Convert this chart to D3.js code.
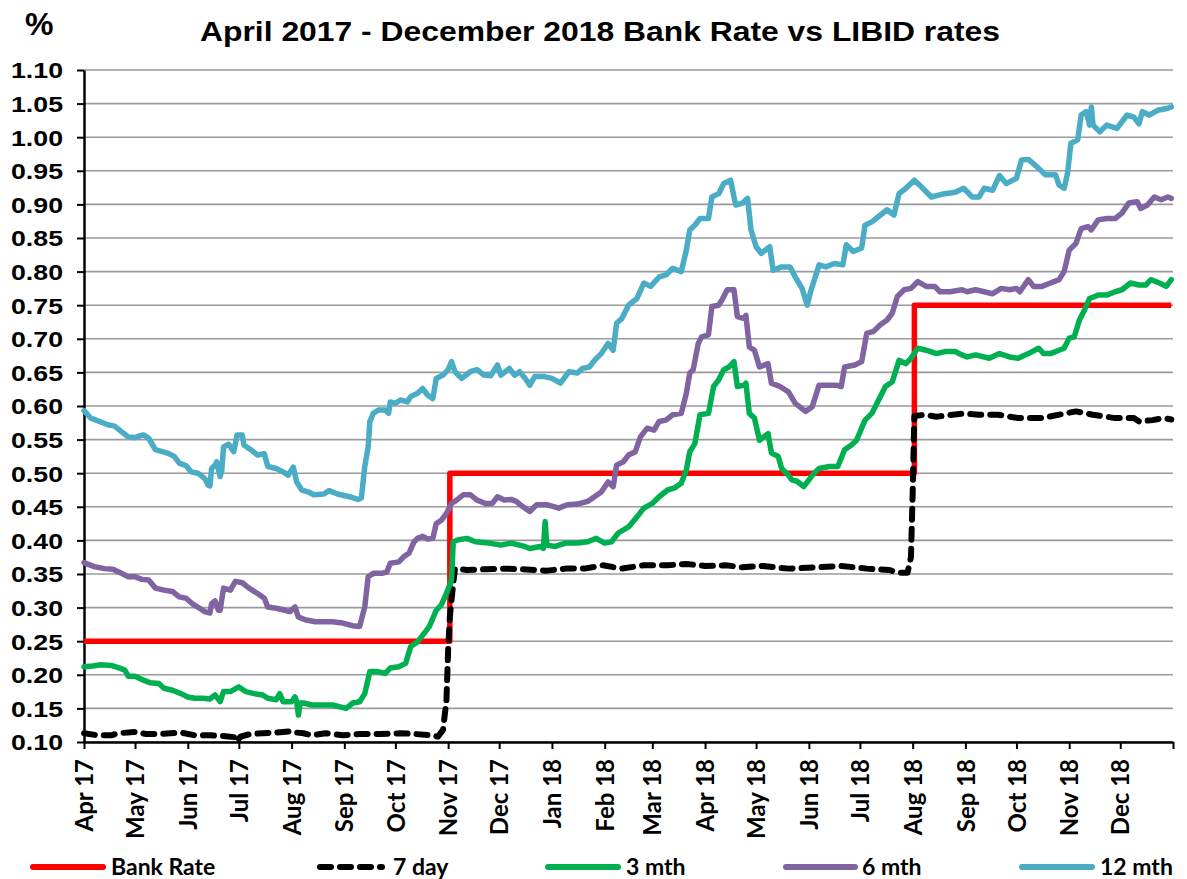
<!DOCTYPE html>
<html>
<head>
<meta charset="utf-8">
<script src="https://cdn.jsdelivr.net/npm/d3@7"></script>
<style>
  html, body { margin: 0; padding: 0; background: #fff; }
  svg { display: block; }
</style>
</head>
<body>
<svg id="chart" width="1187" height="879"></svg>
<script>
// ---------------- DATA ----------------
const chartTitle = "April 2017 - December 2018 Bank Rate vs LIBID rates";
const yUnit = "%";
const seriesNames = ["Bank Rate", "7 day", "3 mth", "6 mth", "12 mth"];
const yTicks = [0.10,0.15,0.20,0.25,0.30,0.35,0.40,0.45,0.50,0.55,0.60,0.65,0.70,0.75,0.80,0.85,0.90,0.95,1.00,1.05,1.10];
const xStart = "2017-04-01";
const xEnd = "2019-01-01";

const bankRate = [
  ["2017-04-01",0.25],["2017-11-02",0.50],["2018-08-02",0.75],["2018-12-31",0.75]
];

const day7 = [
  ["2017-04-01",0.113],["2017-04-09",0.110],["2017-04-17",0.110],["2017-04-21",0.113],["2017-05-02",0.115],
  ["2017-05-07",0.112],["2017-05-17",0.112],["2017-05-28",0.114],["2017-06-05",0.110],["2017-06-14",0.110],
  ["2017-06-22",0.109],["2017-06-29",0.107],["2017-06-30",0.101],["2017-07-02",0.108],["2017-07-08",0.112],
  ["2017-07-15",0.113],["2017-07-23",0.114],["2017-08-01",0.116],["2017-08-04",0.114],["2017-08-08",0.113],
  ["2017-08-13",0.110],["2017-08-21",0.113],["2017-08-31",0.110],["2017-09-10",0.112],["2017-09-22",0.112],
  ["2017-10-04",0.113],["2017-10-12",0.112],["2017-10-22",0.110],["2017-10-26",0.108],["2017-10-29",0.118],
  ["2017-10-31",0.162],["2017-11-01",0.237],["2017-11-02",0.286],["2017-11-04",0.336],["2017-11-05",0.358],
  ["2017-11-12",0.356],["2017-11-22",0.357],["2017-12-04",0.358],["2017-12-15",0.357],["2017-12-29",0.355],
  ["2018-01-09",0.358],["2018-01-20",0.358],["2018-01-31",0.363],["2018-02-11",0.358],["2018-02-24",0.363],
  ["2018-03-10",0.363],["2018-03-21",0.365],["2018-04-01",0.362],["2018-04-13",0.363],["2018-04-23",0.360],
  ["2018-05-05",0.362],["2018-05-20",0.358],["2018-06-05",0.360],["2018-06-20",0.362],["2018-07-05",0.358],
  ["2018-07-18",0.356],["2018-07-24",0.352],["2018-07-29",0.352],["2018-07-31",0.375],["2018-08-01",0.470],
  ["2018-08-02",0.585],["2018-08-08",0.587],["2018-08-15",0.584],["2018-08-31",0.589],["2018-09-09",0.587],
  ["2018-09-20",0.587],["2018-10-02",0.582],["2018-10-16",0.582],["2018-10-30",0.589],["2018-11-05",0.592],
  ["2018-11-15",0.587],["2018-11-28",0.582],["2018-12-09",0.582],["2018-12-12",0.577],["2018-12-20",0.579],
  ["2018-12-26",0.582],["2018-12-31",0.580]
];

const mth3 = [
  ["2017-04-01",0.212],["2017-04-06",0.213],["2017-04-11",0.215],["2017-04-17",0.214],["2017-04-22",0.210],
  ["2017-04-25",0.207],["2017-04-27",0.198],["2017-05-01",0.198],["2017-05-06",0.192],["2017-05-10",0.188],
  ["2017-05-15",0.187],["2017-05-18",0.180],["2017-05-23",0.177],["2017-05-28",0.172],["2017-06-01",0.167],
  ["2017-06-05",0.165],["2017-06-10",0.165],["2017-06-14",0.164],["2017-06-17",0.170],["2017-06-20",0.160],
  ["2017-06-22",0.175],["2017-06-26",0.175],["2017-07-01",0.182],["2017-07-05",0.175],["2017-07-10",0.172],
  ["2017-07-15",0.170],["2017-07-18",0.165],["2017-07-23",0.163],["2017-07-25",0.172],["2017-07-27",0.160],
  ["2017-08-01",0.160],["2017-08-03",0.167],["2017-08-04",0.160],["2017-08-05",0.140],["2017-08-06",0.158],
  ["2017-08-08",0.158],["2017-08-13",0.155],["2017-08-19",0.155],["2017-08-25",0.155],["2017-09-02",0.150],
  ["2017-09-06",0.158],["2017-09-10",0.160],["2017-09-13",0.172],["2017-09-16",0.205],["2017-09-20",0.205],
  ["2017-09-25",0.202],["2017-09-28",0.210],["2017-10-03",0.212],["2017-10-07",0.217],["2017-10-10",0.242],
  ["2017-10-14",0.249],["2017-10-18",0.262],["2017-10-21",0.272],["2017-10-25",0.296],["2017-10-28",0.304],
  ["2017-10-31",0.321],["2017-11-03",0.341],["2017-11-04",0.398],["2017-11-07",0.401],["2017-11-12",0.403],
  ["2017-11-17",0.398],["2017-11-25",0.396],["2017-12-02",0.393],["2017-12-08",0.396],["2017-12-16",0.391],
  ["2017-12-19",0.388],["2017-12-25",0.391],["2017-12-27",0.388],["2017-12-28",0.428],["2017-12-29",0.393],
  ["2018-01-03",0.391],["2018-01-09",0.396],["2018-01-16",0.396],["2018-01-22",0.398],["2018-01-27",0.403],
  ["2018-02-01",0.396],["2018-02-05",0.398],["2018-02-09",0.411],["2018-02-15",0.420],["2018-02-20",0.435],
  ["2018-02-24",0.448],["2018-03-01",0.455],["2018-03-05",0.465],["2018-03-10",0.475],["2018-03-14",0.478],
  ["2018-03-18",0.485],["2018-03-21",0.505],["2018-03-23",0.532],["2018-03-26",0.544],["2018-03-29",0.587],
  ["2018-04-03",0.589],["2018-04-06",0.629],["2018-04-09",0.639],["2018-04-12",0.654],["2018-04-15",0.658],
  ["2018-04-18",0.666],["2018-04-20",0.629],["2018-04-24",0.631],["2018-04-25",0.634],["2018-04-27",0.589],
  ["2018-04-30",0.582],["2018-05-03",0.549],["2018-05-08",0.559],["2018-05-10",0.530],["2018-05-14",0.525],
  ["2018-05-16",0.507],["2018-05-19",0.500],["2018-05-22",0.490],["2018-05-25",0.488],["2018-05-29",0.480],
  ["2018-06-01",0.490],["2018-06-04",0.500],["2018-06-07",0.507],["2018-06-13",0.510],["2018-06-18",0.510],
  ["2018-06-22",0.535],["2018-06-26",0.542],["2018-06-29",0.549],["2018-07-04",0.579],["2018-07-08",0.589],
  ["2018-07-12",0.609],["2018-07-16",0.629],["2018-07-20",0.636],["2018-07-24",0.668],["2018-07-28",0.663],
  ["2018-07-31",0.671],["2018-08-04",0.686],["2018-08-09",0.683],["2018-08-15",0.678],["2018-08-20",0.681],
  ["2018-08-26",0.681],["2018-08-30",0.676],["2018-09-02",0.673],["2018-09-07",0.676],["2018-09-15",0.671],
  ["2018-09-21",0.678],["2018-09-27",0.673],["2018-10-02",0.671],["2018-10-08",0.678],["2018-10-14",0.686],
  ["2018-10-17",0.678],["2018-10-21",0.678],["2018-10-26",0.683],["2018-10-29",0.686],["2018-11-01",0.701],
  ["2018-11-04",0.703],["2018-11-07",0.728],["2018-11-10",0.743],["2018-11-13",0.760],["2018-11-18",0.765],
  ["2018-11-23",0.765],["2018-11-28",0.770],["2018-12-02",0.773],["2018-12-07",0.783],["2018-12-12",0.780],
  ["2018-12-16",0.780],["2018-12-19",0.788],["2018-12-24",0.783],["2018-12-28",0.778],["2018-12-31",0.788]
];

const mth6 = [
  ["2017-04-01",0.367],["2017-04-07",0.361],["2017-04-13",0.358],["2017-04-18",0.357],["2017-04-23",0.351],
  ["2017-04-27",0.346],["2017-05-01",0.346],["2017-05-05",0.342],["2017-05-09",0.341],["2017-05-13",0.329],
  ["2017-05-18",0.326],["2017-05-23",0.324],["2017-05-27",0.316],["2017-05-31",0.314],["2017-06-04",0.305],
  ["2017-06-08",0.299],["2017-06-11",0.294],["2017-06-14",0.292],["2017-06-15",0.306],["2017-06-17",0.310],
  ["2017-06-19",0.296],["2017-06-20",0.296],["2017-06-22",0.329],["2017-06-26",0.326],["2017-06-29",0.339],
  ["2017-07-03",0.337],["2017-07-07",0.329],["2017-07-12",0.321],["2017-07-16",0.314],["2017-07-18",0.301],
  ["2017-07-23",0.299],["2017-07-28",0.296],["2017-07-31",0.294],["2017-08-03",0.301],["2017-08-05",0.286],
  ["2017-08-07",0.284],["2017-08-09",0.282],["2017-08-15",0.279],["2017-08-25",0.279],["2017-08-31",0.277],
  ["2017-09-06",0.273],["2017-09-10",0.272],["2017-09-13",0.301],["2017-09-15",0.346],["2017-09-18",0.351],
  ["2017-09-23",0.351],["2017-09-26",0.353],["2017-09-28",0.366],["2017-10-03",0.368],["2017-10-06",0.376],
  ["2017-10-09",0.381],["2017-10-12",0.398],["2017-10-14",0.403],["2017-10-17",0.406],["2017-10-20",0.402],
  ["2017-10-23",0.403],["2017-10-25",0.425],["2017-10-28",0.430],["2017-10-31",0.440],["2017-11-03",0.455],
  ["2017-11-06",0.460],["2017-11-10",0.468],["2017-11-14",0.468],["2017-11-18",0.460],["2017-11-23",0.455],
  ["2017-11-27",0.455],["2017-11-30",0.465],["2017-12-04",0.460],["2017-12-08",0.461],["2017-12-11",0.458],
  ["2017-12-15",0.450],["2017-12-19",0.443],["2017-12-23",0.453],["2017-12-29",0.453],["2018-01-01",0.451],
  ["2018-01-05",0.448],["2018-01-10",0.453],["2018-01-16",0.454],["2018-01-22",0.458],["2018-01-26",0.465],
  ["2018-01-30",0.472],["2018-02-03",0.487],["2018-02-06",0.480],["2018-02-08",0.512],["2018-02-12",0.517],
  ["2018-02-15",0.527],["2018-02-19",0.532],["2018-02-22",0.554],["2018-02-26",0.567],["2018-03-02",0.564],
  ["2018-03-05",0.577],["2018-03-09",0.579],["2018-03-13",0.587],["2018-03-18",0.589],["2018-03-21",0.619],
  ["2018-03-23",0.649],["2018-03-25",0.654],["2018-03-28",0.693],["2018-03-30",0.703],["2018-04-03",0.706],
  ["2018-04-05",0.748],["2018-04-09",0.750],["2018-04-11",0.758],["2018-04-14",0.773],["2018-04-18",0.773],
  ["2018-04-20",0.733],["2018-04-24",0.730],["2018-04-25",0.735],["2018-04-27",0.688],["2018-04-30",0.683],
  ["2018-05-03",0.658],["2018-05-08",0.663],["2018-05-10",0.634],["2018-05-15",0.629],["2018-05-20",0.621],
  ["2018-05-24",0.604],["2018-05-30",0.592],["2018-06-03",0.599],["2018-06-07",0.631],["2018-06-12",0.631],
  ["2018-06-17",0.631],["2018-06-20",0.629],["2018-06-22",0.658],["2018-06-28",0.661],["2018-07-02",0.666],
  ["2018-07-05",0.708],["2018-07-09",0.711],["2018-07-13",0.721],["2018-07-17",0.728],["2018-07-20",0.738],
  ["2018-07-23",0.763],["2018-07-27",0.773],["2018-07-31",0.775],["2018-08-04",0.785],["2018-08-09",0.778],
  ["2018-08-14",0.778],["2018-08-17",0.770],["2018-08-23",0.770],["2018-08-30",0.773],["2018-09-02",0.770],
  ["2018-09-07",0.773],["2018-09-12",0.770],["2018-09-17",0.767],["2018-09-22",0.775],["2018-09-27",0.773],
  ["2018-10-01",0.775],["2018-10-03",0.770],["2018-10-08",0.788],["2018-10-11",0.778],["2018-10-16",0.778],
  ["2018-10-21",0.783],["2018-10-26",0.788],["2018-10-29",0.800],["2018-11-01",0.832],["2018-11-05",0.842],
  ["2018-11-08",0.864],["2018-11-12",0.867],["2018-11-14",0.862],["2018-11-18",0.877],["2018-11-23",0.879],
  ["2018-11-28",0.879],["2018-12-02",0.887],["2018-12-06",0.902],["2018-12-11",0.904],["2018-12-13",0.894],
  ["2018-12-17",0.899],["2018-12-21",0.911],["2018-12-25",0.907],["2018-12-29",0.911],["2018-12-31",0.909]
];

const mth12 = [
  ["2017-04-01",0.593],["2017-04-05",0.582],["2017-04-09",0.578],["2017-04-15",0.572],["2017-04-19",0.570],
  ["2017-04-23",0.562],["2017-04-27",0.554],["2017-05-01",0.553],["2017-05-03",0.555],["2017-05-06",0.557],
  ["2017-05-09",0.552],["2017-05-12",0.539],["2017-05-13",0.535],["2017-05-20",0.530],["2017-05-24",0.525],
  ["2017-05-27",0.515],["2017-05-31",0.511],["2017-06-03",0.502],["2017-06-07",0.500],["2017-06-11",0.492],
  ["2017-06-13",0.482],["2017-06-14",0.481],["2017-06-15",0.507],["2017-06-17",0.512],["2017-06-18",0.517],
  ["2017-06-20",0.495],["2017-06-21",0.505],["2017-06-22",0.539],["2017-06-25",0.543],["2017-06-28",0.532],
  ["2017-06-30",0.557],["2017-07-03",0.557],["2017-07-04",0.542],["2017-07-08",0.535],["2017-07-12",0.527],
  ["2017-07-16",0.529],["2017-07-18",0.510],["2017-07-23",0.507],["2017-07-27",0.502],["2017-07-30",0.497],
  ["2017-08-02",0.509],["2017-08-04",0.487],["2017-08-07",0.475],["2017-08-11",0.472],["2017-08-14",0.468],
  ["2017-08-20",0.469],["2017-08-23",0.474],["2017-08-28",0.469],["2017-09-04",0.465],["2017-09-09",0.461],
  ["2017-09-11",0.463],["2017-09-13",0.510],["2017-09-15",0.539],["2017-09-16",0.577],["2017-09-18",0.589],
  ["2017-09-21",0.594],["2017-09-25",0.594],["2017-09-27",0.589],["2017-09-28",0.606],["2017-10-01",0.604],
  ["2017-10-04",0.609],["2017-10-08",0.606],["2017-10-10",0.614],["2017-10-14",0.619],["2017-10-17",0.626],
  ["2017-10-20",0.616],["2017-10-23",0.611],["2017-10-25",0.641],["2017-10-29",0.646],["2017-11-01",0.654],
  ["2017-11-03",0.666],["2017-11-05",0.651],["2017-11-09",0.641],["2017-11-14",0.651],["2017-11-18",0.654],
  ["2017-11-22",0.646],["2017-11-26",0.645],["2017-11-30",0.661],["2017-12-02",0.646],["2017-12-07",0.656],
  ["2017-12-10",0.646],["2017-12-13",0.651],["2017-12-16",0.642],["2017-12-19",0.631],["2017-12-22",0.644],
  ["2017-12-27",0.644],["2018-01-01",0.641],["2018-01-06",0.634],["2018-01-11",0.651],["2018-01-16",0.649],
  ["2018-01-19",0.656],["2018-01-23",0.658],["2018-01-26",0.668],["2018-01-30",0.678],["2018-02-03",0.693],
  ["2018-02-06",0.683],["2018-02-08",0.723],["2018-02-11",0.730],["2018-02-15",0.750],["2018-02-20",0.760],
  ["2018-02-24",0.783],["2018-02-28",0.778],["2018-03-05",0.792],["2018-03-09",0.795],["2018-03-13",0.805],
  ["2018-03-18",0.800],["2018-03-21",0.832],["2018-03-23",0.862],["2018-03-26",0.869],["2018-03-29",0.879],
  ["2018-04-03",0.879],["2018-04-05",0.911],["2018-04-09",0.916],["2018-04-12",0.931],["2018-04-16",0.936],
  ["2018-04-19",0.899],["2018-04-23",0.902],["2018-04-26",0.909],["2018-04-28",0.862],["2018-05-01",0.837],
  ["2018-05-04",0.827],["2018-05-09",0.837],["2018-05-11",0.802],["2018-05-16",0.807],["2018-05-21",0.807],
  ["2018-05-24",0.792],["2018-05-28",0.775],["2018-05-31",0.750],["2018-06-02",0.770],["2018-06-07",0.810],
  ["2018-06-11",0.807],["2018-06-16",0.812],["2018-06-21",0.810],["2018-06-23",0.840],["2018-06-27",0.830],
  ["2018-07-02",0.835],["2018-07-04",0.869],["2018-07-08",0.874],["2018-07-12",0.882],["2018-07-17",0.892],
  ["2018-07-21",0.884],["2018-07-24",0.916],["2018-07-28",0.924],["2018-08-02",0.936],["2018-08-05",0.929],
  ["2018-08-12",0.911],["2018-08-18",0.915],["2018-08-26",0.918],["2018-08-31",0.924],["2018-09-05",0.911],
  ["2018-09-09",0.911],["2018-09-12",0.924],["2018-09-17",0.921],["2018-09-21",0.943],["2018-09-25",0.931],
  ["2018-10-01",0.939],["2018-10-04",0.966],["2018-10-08",0.967],["2018-10-13",0.956],["2018-10-18",0.944],
  ["2018-10-24",0.944],["2018-10-26",0.929],["2018-10-29",0.924],["2018-10-31",0.946],["2018-11-02",0.991],
  ["2018-11-06",0.996],["2018-11-08",1.033],["2018-11-11",1.038],["2018-11-13",1.018],["2018-11-14",1.045],
  ["2018-11-15",1.018],["2018-11-19",1.008],["2018-11-23",1.018],["2018-11-29",1.013],["2018-12-05",1.033],
  ["2018-12-09",1.030],["2018-12-12",1.020],["2018-12-14",1.038],["2018-12-18",1.033],["2018-12-23",1.040],
  ["2018-12-29",1.043],["2018-12-31",1.045]
];

// ---------------- CHART ----------------
const parse = d3.timeParse("%Y-%m-%d");
const W = 1187, H = 879;
const m = {left: 84, right: 1173, top: 70, bottom: 742};

const svg = d3.select("#chart");
svg.append("rect").attr("width", W).attr("height", H).attr("fill", "#fff");

const x = d3.scaleTime().domain([parse(xStart), parse(xEnd)]).range([m.left, m.right]);
const y = d3.scaleLinear().domain([0.10, 1.10]).range([m.bottom, m.top]);

// gridlines
svg.append("g").selectAll("line").data(yTicks).join("line")
  .attr("x1", m.left).attr("x2", m.right)
  .attr("y1", d => y(d)).attr("y2", d => y(d))
  .attr("stroke", "#9a9a9a").attr("stroke-width", 1.6);

// title
svg.append("text").attr("x", 200).attr("y", 41)
  .attr("font-family", "'Liberation Sans', Arial, sans-serif").attr("font-weight", "bold")
  .attr("font-size", 27).attr("textLength", 800).attr("lengthAdjust", "spacingAndGlyphs")
  .text(chartTitle);
svg.append("text").attr("x", 25).attr("y", 35)
  .attr("font-family", "'Liberation Sans', Arial, sans-serif").attr("font-weight", "bold")
  .attr("font-size", 32).text(yUnit);

// y axis
const yAxis = d3.axisLeft(y).tickValues(yTicks).tickFormat(d3.format(".2f")).tickSize(7).tickSizeOuter(0);
const gy = svg.append("g").attr("transform", `translate(${m.left},0)`).call(yAxis);
gy.select(".domain").attr("stroke", "#000").attr("stroke-width", 2.5);
gy.selectAll(".tick line").attr("stroke", "#000").attr("stroke-width", 2);
gy.selectAll(".tick text")
  .attr("x", -21).attr("dy", "0.36em")
  .attr("font-family", "'Liberation Sans', Arial, sans-serif").attr("font-weight", "bold")
  .attr("font-size", 22).attr("fill", "#000")
  .attr("textLength", 52).attr("lengthAdjust", "spacingAndGlyphs");

// x axis
const endDate = parse(xEnd);
const monthTicks = d3.timeMonth.range(parse(xStart), d3.timeDay.offset(endDate, 1));
const fmt = d3.timeFormat("%b %y");
const xAxis = d3.axisBottom(x).tickValues(monthTicks)
  .tickFormat(d => (+d >= +endDate ? "" : fmt(d))).tickSize(7).tickSizeOuter(0);
const gx = svg.append("g").attr("transform", `translate(0,${m.bottom})`).call(xAxis);
gx.select(".domain").attr("stroke", "#000").attr("stroke-width", 2.5);
gx.selectAll(".tick line").attr("stroke", "#000").attr("stroke-width", 2);
gx.selectAll(".tick text")
  .attr("transform", "rotate(-90)")
  .attr("text-anchor", "end")
  .attr("x", -17).attr("y", 0).attr("dy", "0.36em")
  .attr("font-family", "Lato, 'Open Sans', sans-serif").attr("font-weight", "bold")
  .attr("font-size", 24).attr("fill", "#000");

// lines
const line = d3.line().x(d => x(parse(d[0]))).y(d => y(d[1]));
const stepLine = d3.line().x(d => x(parse(d[0]))).y(d => y(d[1])).curve(d3.curveStepAfter);

const styles = [
  {data: bankRate, color: "#ff0000", dash: null, gen: stepLine, w: 5.5},
  {data: day7, color: "#000000", dash: "11,9", gen: line, w: 6},
  {data: mth3, color: "#00b050", dash: null, gen: line, w: 5.5},
  {data: mth6, color: "#8064a2", dash: null, gen: line, w: 5.5},
  {data: mth12, color: "#4bacc6", dash: null, gen: line, w: 5.5}
];

const gl = svg.append("g");
styles.forEach(s => {
  gl.append("path").datum(s.data)
    .attr("d", s.gen)
    .attr("fill", "none")
    .attr("stroke", s.color)
    .attr("stroke-width", s.w)
    .attr("stroke-linejoin", "round")
    .attr("stroke-linecap", s.dash ? "round" : (s.gen === stepLine ? "butt" : "round"))
    .attr("stroke-dasharray", s.dash);
});

// legend
const legendPos = [
  {x1: 33, x2: 103, tx: 111},
  {x1: 320, x2: 382, tx: 393},
  {x1: 548, x2: 618, tx: 626},
  {x1: 786, x2: 855, tx: 862},
  {x1: 1022, x2: 1092, tx: 1100}
];
const legY = 867;
const lg = svg.append("g");
styles.forEach((s, i) => {
  const p = legendPos[i];
  lg.append("line").attr("x1", p.x1).attr("x2", p.x2).attr("y1", legY).attr("y2", legY)
    .attr("stroke", s.color).attr("stroke-width", 6)
    .attr("stroke-linecap", "round")
    .attr("stroke-dasharray", s.dash);
  lg.append("text").attr("x", p.tx).attr("y", legY + 8)
    .attr("font-family", "Lato, 'Open Sans', sans-serif").attr("font-weight", "bold")
    .attr("font-size", 23).attr("fill", "#000")
    .text(seriesNames[i]);
});
</script>
</body>
</html>
